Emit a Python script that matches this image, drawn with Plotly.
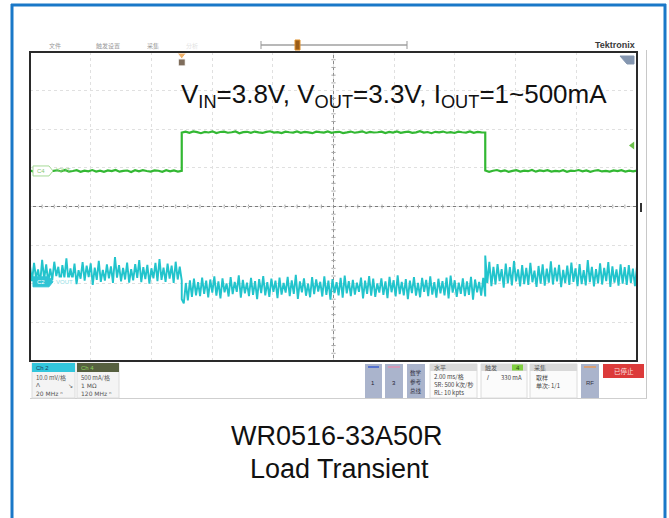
import numpy as np
import plotly.graph_objects as go

W, H = 669, 518

# ---------------------------------------------------------------- data
# Horizontal: 2 ms/div, 10 divisions, trigger reference at screen centre
T_START, T_STEP_UP, T_STEP_DOWN, T_END = -10.0, -5.0, 5.0, 10.0

# Channel 2: VOUT, AC coupled, 10 mV/div
CH2_SCALE = 10.0          # mV per division
CH2_POSITION = -1.72      # screen position of the trace baseline (div)
CH2_TAG_POSITION = -1.95  # channel marker (div)
# Channel 4: IOUT, 500 mA/div
CH4_SCALE = 500.0         # mA per division
CH4_POSITION = 0.92       # screen position of 0 mA (div)
TRIGGER_LEVEL_MA = 330.0

# VOUT ripple (mV): before the load step, during 500 mA load, after release
vout_before = [1.8, -2.1, 2.6, -1.4, 0.9, -2.8, 3.4, -1.6, 2.2, -2.4, 1.1, -1.9, 2.9, -0.8, 1.6,
               -2.7, 2.0, -1.3, 3.8, -2.2, 1.2, -1.7, 2.4, -2.9, 0.7, -1.5, 2.8, -2.0, 1.9, -1.1,
               2.5, -3.1, 1.4, -1.8, 3.1, -2.3, 0.8, -2.0, 2.2, -1.4, 1.7, -2.6, 4.1, -1.2, 2.0,
               -2.2, 1.3, -1.7, 2.7, -2.5, 1.0, -1.9, 2.3, -1.3, 3.3, -2.4, 1.5, -1.6, 2.1, -2.8,
               1.2, -1.4, 2.6, -2.1, 3.6, -1.8, 1.4, -2.3, 2.4, -1.5, 1.9, -2.6, 2.9, -1.7, 1.6, -2.0]
vout_loaded = [-6.8, -7.9, -2.6, -7.1, -1.9, -6.2, -1.5, -5.8, -2.4, -6.0, -1.2, -5.4, -2.0, -6.3,
               -1.7, -5.1, -0.9, -5.9, -2.2, -6.6, -1.4, -5.0, -2.7, -6.1, -1.1, -5.5, -2.3, -4.9,
               -0.6, -6.4, -1.8, -5.3, -2.5, -6.0, -1.3, -5.7, -2.1, -6.8, -1.6, -5.2, -0.8, -5.8,
               -2.4, -6.2, -1.5, -4.9, -2.0, -6.5, -1.2, -5.6, -2.6, -5.1, -1.0, -6.0, -1.9, -5.4,
               -0.5, -6.7, -2.2, -5.0, -1.4, -5.9, -2.8, -6.3, -1.1, -5.5, -1.7, -4.8, -2.3, -6.1,
               -0.9, -5.7, -2.0, -6.9, -1.6, -5.2, -2.4, -5.8, -1.3, -6.4, -0.7, -5.3, -2.1, -6.0,
               -1.8, -5.6, -2.5, -4.9, -1.2, -6.6, -2.0, -5.4, -0.8, -5.9, -1.5, -6.2, -2.7, -5.1,
               -1.4, -5.7, -2.2, -6.5, -1.0, -5.0, -1.9, -6.1, -0.6, -5.5, -2.3, -5.8, -1.6, -6.8,
               -2.0, -5.2, -1.1, -5.9, -2.6, -6.3, -1.3, -4.9, -1.8, -6.0, -0.9, -5.6, -2.4, -6.4,
               -1.5, -5.3, -2.1, -5.8, -1.2, -6.6, -0.7, -5.1, -1.9, -6.2, -2.5, -5.4, -1.4, -6.0,
               -2.2, -5.7, -1.0, -6.9, -1.7, -5.0, -2.3, -5.9, -1.3, -6.1]
vout_after = [4.5, -2.6, 2.9, -3.4, 1.6, -3.0, 2.3, -2.1, 1.0, -3.8, 2.4, -2.7, 1.5, -3.2, 3.1,
              -2.2, 0.9, -3.5, 2.0, -2.9, 1.3, -3.1, 2.6, -2.4, 0.6, -3.6, 1.8, -2.8, 2.2, -3.3,
              1.1, -2.5, 3.0, -3.0, 1.4, -2.2, 2.1, -3.7, 0.8, -2.6, 1.9, -3.1, 2.7, -2.3, 1.2,
              -3.4, 2.3, -2.9, 0.7, -3.2, 3.3, -2.4, 1.6, -3.5, 1.0, -2.7, 2.5, -3.0, 1.3, -2.1,
              2.8, -3.6, 1.7, -2.5, 0.9, -3.3, 2.2, -2.8, 1.5, -3.1, 2.0, -2.6, 1.1, -3.4, 1.8]

# IOUT (mA): 1 mA -> 500 mA -> 1 mA
iout_before = [4, -9, 11, -3, 7, -12, 2, 9, -6, 13, -8, 0, 10, -11, 5, -4, 12, -7, 3, -10,
               8, -2, 14, -9, 1, 6, -13, 9, -5, 11, -1, -8, 7, 3, -11, 10, -4, 6, -7, 2]
iout_loaded = [497, 508, 493, 511, 502, 489, 506, 498, 513, 491, 504, 509, 495, 501, 512, 488,
               503, 507, 494, 510, 499, 492, 506, 514, 496, 503, 490, 508, 501, 497, 511, 493,
               505, 500, 489, 509, 502, 496, 512, 494, 504, 507, 491, 499, 510, 495, 503, 513,
               492, 506, 498, 501, 509, 490, 505, 497, 511, 494, 502, 508, 493, 500, 514, 496,
               504, 489, 507, 499, 510, 495, 503, 492, 508, 501, 497, 512, 494, 506, 500, 498]
iout_after = [6, -10, 3, 12, -5, 8, -12, 1, 10, -7, 4, -3, 13, -9, 7, -1, 11, -8, 2, -6,
              9, -11, 5, 0, 12, -4, 7, -10, 3, 10, -6, 1, -9, 8, -2, 11, -7, 4, -5, 6]

TITLE_LINES = ["WR0516-33A50R", "Load Transient"]
CONDITIONS = "V<sub>IN</sub>=3.8V, V<sub>OUT</sub>=3.3V, I<sub>OUT</sub>=1~500mA"


def time_base(*segments):
    """Sample instants for each acquisition segment (uniform spacing inside a segment)."""
    bounds = [T_START, T_STEP_UP, T_STEP_DOWN, T_END]
    return np.concatenate([np.linspace(bounds[i], bounds[i + 1], len(s))
                           for i, s in enumerate(segments)])


t_v = time_base(vout_before, vout_loaded, vout_after)
v_mv = np.array(vout_before + vout_loaded + vout_after)
t_i = time_base(iout_before, iout_loaded, iout_after)
i_ma = np.array(iout_before + iout_loaded + iout_after)

# convert to screen divisions
v_div = v_mv / CH2_SCALE + CH2_POSITION
i_div = i_ma / CH4_SCALE + CH4_POSITION

CYAN = "#22c4cc"
GREEN = "#33b833"
CJK = "Noto Sans CJK SC"
SANS = "Liberation Sans, Arial, sans-serif"

# graticule box in page pixels
BX0, BX1, BY0, BY1 = 30, 637, 52, 361

fig = go.Figure()
fig.add_trace(go.Scatter(x=t_v, y=v_div, mode="lines",
                         line=dict(color=CYAN, width=1.9, simplify=False), hoverinfo="skip"))
fig.add_trace(go.Scatter(x=t_i, y=i_div, mode="lines",
                         line=dict(color=GREEN, width=2.2, simplify=False), hoverinfo="skip"))
# trigger level arrow (right edge) and trigger position marker (top edge)
fig.add_trace(go.Scatter(x=[9.85], y=[TRIGGER_LEVEL_MA / CH4_SCALE + CH4_POSITION],
                         mode="markers", cliponaxis=False,
                         marker=dict(symbol="triangle-left", size=7, color="#6cc04a"),
                         hoverinfo="skip"))
fig.add_trace(go.Scatter(x=[T_STEP_UP, T_STEP_UP], y=[3.92, 3.73], mode="markers",
                         cliponaxis=False,
                         marker=dict(symbol=["triangle-down", "square"], size=[8, 7],
                                     color=["#e8902a", "#4a3018"]),
                         hoverinfo="skip"))

shapes = []
annotations = []


def px(x):
    return x / W


def py(y):
    return 1 - y / H


def rect(x0, y0, x1, y1, fill=None, line=None, lw=1, layer="above"):
    shapes.append(dict(type="rect", xref="paper", yref="paper",
                       x0=px(x0), x1=px(x1), y0=py(y0), y1=py(y1),
                       fillcolor=fill or "rgba(0,0,0,0)",
                       line=dict(color=line or "rgba(0,0,0,0)", width=lw if line else 0),
                       layer=layer))


def seg(x0, y0, x1, y1, color, lw=1, layer="above"):
    shapes.append(dict(type="line", xref="paper", yref="paper", x0=px(x0), x1=px(x1),
                       y0=py(y0), y1=py(y1), line=dict(color=color, width=lw), layer=layer))


def poly(points, fill, line=None):
    path = "M " + " L ".join(f"{px(x):.5f},{py(y):.5f}" for x, y in points) + " Z"
    shapes.append(dict(type="path", xref="paper", yref="paper", path=path,
                       fillcolor=fill, line=dict(color=line or fill, width=1)))


def text(x, y, s, size=6.5, color="#555", anchor="left", family=CJK, **kw):
    annotations.append(dict(x=px(x), y=py(y), xref="paper", yref="paper", text=s,
                            showarrow=False, xanchor=anchor, yanchor="middle",
                            font=dict(size=size, color=color, family=family), **kw))


# outer frame
BLUE = "#1a78c8"
seg(12, 4, 12, H, BLUE, 3)
seg(11, 5, 666, 5, BLUE, 3)
seg(665, 4, 665, H, BLUE, 3)

# top bar of the scope screen
text(47, 45, "文件", 6, "#999")
text(94, 45, "触发设置", 6, "#999")
text(145, 45, "采集", 6, "#999")
text(184, 45, "分析", 6, "#e2e2e2")
seg(261, 45, 407, 45, "#b8b8b8", 2)
seg(261, 41, 261, 49, "#999", 1)
seg(407, 41, 407, 49, "#999", 1)
rect(295, 40, 300, 50, "#9a5c18", "#e0902a", 1)
text(637, 45, "<b>Tektronix</b>", 9, "#3a3a3a", "right", SANS)

# graticule: centre cross with minor ticks
shapes.append(dict(type="line", xref="x", yref="y", x0=T_START, x1=T_END, y0=0, y1=0,
                   line=dict(color="#7a7a7a", width=1), layer="below"))
shapes.append(dict(type="line", xref="x", yref="y", x0=0, x1=0, y0=-4, y1=4,
                   line=dict(color="#8c8c8c", width=1), layer="below"))
for k in range(-50, 51):
    if k % 5:
        xt = k * 0.2 * 2.0
        shapes.append(dict(type="line", xref="x", yref="y", x0=xt, x1=xt, y0=-0.05, y1=0.05,
                           line=dict(color="#a8a8a8", width=1), layer="below"))
for k in range(-20, 21):
    if k % 5:
        yt = k * 0.2
        shapes.append(dict(type="line", xref="x", yref="y", x0=-0.07, x1=0.07, y0=yt, y1=yt,
                           line=dict(color="#a8a8a8", width=1), layer="below"))

# graticule border and side rail
rect(BX0, BY0, BX1, BY1, None, "#2a2a2a", 2)
seg(646.5, 50, 646.5, 399, "#c8c8c8", 1)
rect(640, 203, 642, 212, "#333")
poly([(620, 56), (634, 56), (634, 64), (627, 64)], "#8496b0")

# channel tags at the left edge
c4p = BY0 + (4 - CH4_POSITION) / 8 * (BY1 - BY0)
poly([(33, c4p - 5), (49, c4p - 5), (53, c4p), (49, c4p + 5), (33, c4p + 5)], "white", "#a6da96")
text(35, c4p, "C4", 6, "#86c874", family=SANS)
text(54, c4p - 1, "IOUT", 6, "#8fd080", family=SANS)
c2p = BY0 + (4 - CH2_TAG_POSITION) / 8 * (BY1 - BY0)
poly([(33, c2p - 5), (49, c2p - 5), (53, c2p), (49, c2p + 5), (33, c2p + 5)], "#2fc4d4")
text(35, c2p, "C2", 6, "white", family=SANS)
text(54, c2p, "VOUT", 6, "#8fdde4", family=SANS, bgcolor="white")

# measurement conditions
text(179, 96, CONDITIONS, 26, "#111", "left", SANS)

# bottom control strip
seg(30, 398.5, 647, 398.5, "#cfcfcf", 1)
# Ch 2 badge
rect(32, 363, 75, 398, "#f4f4f4", "#dcdcdc")
rect(32, 363, 75, 372, "#33c6dc")
text(34, 367.5, "Ch 2", 6, "#1d3d5e", family=SANS)
text(34, 377, "10.0 mV/格", 6, "#555")
text(34, 385, "Λ", 6, "#555", family=SANS)
text(66, 385, "↘", 6, "#555", family="DejaVu Sans")
text(34, 393, "20 MHz ⁿ", 6, "#555", family="DejaVu Sans")
# Ch 4 badge
rect(77, 363, 119, 398, "#f4f4f4", "#dcdcdc")
rect(77, 363, 119, 372, "#56603f")
text(79, 367.5, "Ch 4", 6, "#8ed35c", family=SANS)
text(79, 377, "500 mA/格", 6, "#555")
text(79, 385, "1 MΩ", 6, "#555", family="DejaVu Sans")
text(79, 393, "120 MHz ⁿ", 6, "#555", family="DejaVu Sans")

# channel buttons
BTN = "#aab4cc"
rect(365, 364, 382, 398, BTN)
seg(368, 367, 379, 367, "#3a5ed0", 1.5)
text(373.5, 383, "1", 6, "#223", "center", SANS)
rect(385, 364, 403, 398, BTN)
seg(388, 367, 400, 367, "#e38fb0", 1.5)
text(394, 383, "3", 6, "#223", "center", SANS)
rect(407, 364, 425, 398, BTN)
for row, word in enumerate(["数学", "参考", "总线"]):
    text(416, 372.5 + row * 9, word, 5.5, "#334", "center", borderpad=0)

# horizontal / trigger / acquisition panels
for x0, x1 in [(430, 477), (481, 527), (530, 577)]:
    rect(x0, 364, x1, 398, "#fbfbfb", "#dcdcdc")
    rect(x0, 364, x1, 371, "#d9d9d9")
text(432, 367.5, "水平", 6, "#555")
text(432, 376, "2.00 ms/格", 6, "#444")
text(432, 384, "SR: 500 k次/秒", 6, "#444")
text(432, 392, "RL: 10 kpts", 6, "#444")
text(483, 367.5, "触发", 6, "#555")
rect(512, 364.5, 523, 370.5, "#7fcf3f")
text(517.5, 367.5, "4", 6, "#2a4a10", "center", SANS)
text(485, 377, "/", 7, "#444", family=SANS)
text(524, 377, "330 mA", 6, "#444", "right")
text(532, 367.5, "采集", 6, "#555")
text(534, 377, "取样", 6, "#444")
text(534, 385, "单次: 1/1", 6, "#444")

rect(581, 364, 599, 398, BTN)
seg(584, 367, 596, 367, "#e89a5a", 1.5)
text(590, 383, "RF", 6, "#334", "center", SANS)
rect(603, 364, 644, 378, "#dc3b3b")
text(623.5, 371, "已停止", 6.5, "#fbe0e0", "center")

# caption
text(337, 436, TITLE_LINES[0], 27, "#111", "center", SANS)
text(339, 469, TITLE_LINES[1], 27, "#111", "center", SANS)

fig.update_layout(
    width=W, height=H, margin=dict(l=0, r=0, t=0, b=0),
    paper_bgcolor="white", plot_bgcolor="white", showlegend=False,
    shapes=shapes, annotations=annotations,
    xaxis=dict(domain=[px(BX0), px(BX1)], range=[T_START, T_END], dtick=2, tick0=0,
               showgrid=True, gridcolor="#e0e0e0", griddash="dot", gridwidth=1,
               zeroline=False, showticklabels=False, ticks="", fixedrange=True),
    yaxis=dict(domain=[py(BY1), py(BY0)], range=[-4, 4], dtick=1, tick0=0,
               showgrid=True, gridcolor="#e0e0e0", griddash="dot", gridwidth=1,
               zeroline=False, showticklabels=False, ticks="", fixedrange=True),
)

fig.write_html("out.html")
